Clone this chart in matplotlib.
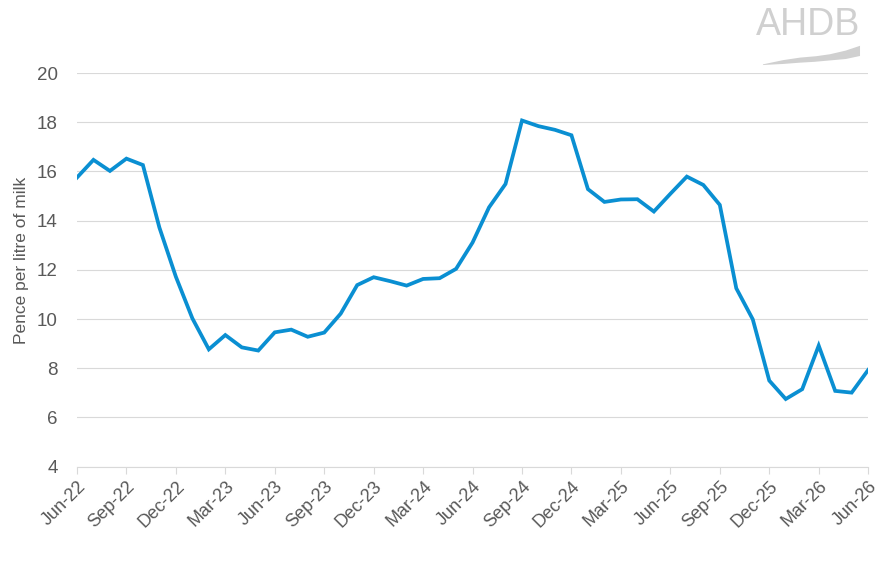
import numpy as np
import pandas as pd
import matplotlib
matplotlib.use("Agg")
import matplotlib.pyplot as plt
from matplotlib.patches import Polygon

# monthly margin, Jun-22 to Jun-26
months = pd.date_range("2022-06-01", "2026-06-01", freq="MS")
pence = [15.75, 16.47, 16.02, 16.52, 16.26, 13.72, 11.72, 10.03, 8.77, 9.35,
         8.85, 8.72, 9.46, 9.57, 9.28, 9.45, 10.22, 11.38, 11.70, 11.54,
         11.36, 11.63, 11.66, 12.04, 13.11, 14.54, 15.49, 18.07, 17.84, 17.69,
         17.47, 15.28, 14.76, 14.86, 14.87, 14.37, 15.09, 15.79, 15.45, 14.64,
         11.25, 9.99, 7.50, 6.75, 7.15, 8.92, 7.08, 7.01, 7.93]
tick_labels = [d.strftime("%b-%y") for d in months[::3]]

plt.rcParams["font.family"] = ["Liberation Sans", "DejaVu Sans"]
grey = "#595959"

fig = plt.figure(figsize=(8.95, 5.62), dpi=100)
ax = fig.add_axes([0.086, 0.1696, 0.884, 0.7005])

x = np.arange(len(pence))
ax.plot(x, pence, color="#0a8fd2", lw=2.7, solid_joinstyle="miter", zorder=3)

ax.set_xlim(0, len(pence) - 1)
ax.set_ylim(4, 20)
ax.set_yticks(range(4, 21, 2))
ax.set_xticks(x[::3])
ax.set_xticklabels(tick_labels, rotation=45, ha="right", rotation_mode="anchor")

ax.grid(axis="y", color="#d9d9d9", lw=0.8)
ax.set_axisbelow(True)
for s in ["top", "right", "left"]:
    ax.spines[s].set_visible(False)
ax.spines["bottom"].set_color("#d9d9d9")
ax.spines["bottom"].set_linewidth(0.8)
ax.tick_params(axis="x", colors="#d9d9d9", length=5, width=0.8, labelcolor=grey,
               labelsize=13, pad=3)
ax.tick_params(axis="y", length=0, labelcolor=grey, labelsize=13.5, pad=14)
ax.set_ylabel("Pence per litre of milk", color=grey, fontsize=12.5)
ax.yaxis.set_label_coords(-0.061, 0.525)

# AHDB logo, top right
fig.text(0.9615, 0.9377, "AHDB", color="#d0d0d0", fontsize=27, ha="right",
         va="baseline")
sw = [(0.8525, 0.8855), (0.8750, 0.8930), (0.8939, 0.8975), (0.9120, 0.9000),
      (0.9274, 0.9035), (0.9450, 0.9100), (0.9609, 0.9185),
      (0.9609, 0.9004), (0.9450, 0.8950), (0.9274, 0.8925), (0.9100, 0.8900),
      (0.8939, 0.8885), (0.8750, 0.8862), (0.8525, 0.8843)]
fig.patches.append(Polygon(sw, closed=True, transform=fig.transFigure,
                           color="#d0d0d0", lw=0))

fig.savefig("out.png", dpi=100)
